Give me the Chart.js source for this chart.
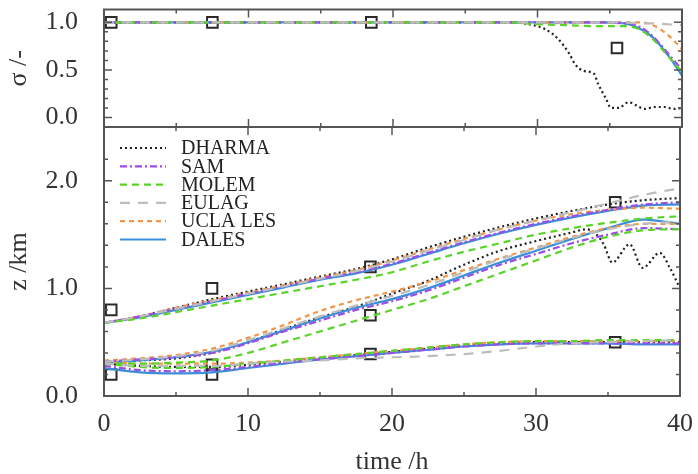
<!DOCTYPE html>
<html><head><meta charset="utf-8">
<script src="https://cdn.jsdelivr.net/npm/chart.js@4.4.1/dist/chart.umd.min.js"></script>
<style>
html,body{margin:0;padding:0;background:#fff;}
#wrap{position:relative;width:698px;height:474px;background:#fff;}
canvas{position:absolute;left:0;top:0;}
</style></head><body>
<div id="wrap"><canvas id="cTop" width="698" height="474"></canvas><canvas id="cBot" width="698" height="474"></canvas></div>
<script>
// ---------------- data ----------------
const models = ['DHARMA','SAM','MOLEM','EULAG','UCLA LES','DALES'];
const colors = ['#222222','#9b4de8','#5ad42a','#bdbdbd','#f0964a','#3a8fd8'];
const dashes = [[2,3],[7,3,2,3],[7,5],[10,8],[5,4],[]];

const hours = [0,2.5,5,7.5,10,12.5,15,17.5,20,22.5,25,27.5,30,32.5,35,37.5,40];

// cloud top height (km)
const topDHARMA = [0.68,0.74,0.82,0.90,0.97,1.04,1.11,1.18,1.27,1.38,1.48,1.57,1.65,1.72,1.78,1.82,1.84];
const topSAM    = [0.68,0.74,0.81,0.88,0.95,1.02,1.09,1.15,1.23,1.33,1.43,1.52,1.60,1.67,1.73,1.78,1.80];
const topMOLEM  = [0.68,0.72,0.78,0.84,0.90,0.96,1.02,1.08,1.15,1.25,1.34,1.42,1.50,1.56,1.61,1.65,1.67];
const topEULAG  = [0.68,0.74,0.81,0.88,0.95,1.02,1.09,1.16,1.25,1.35,1.45,1.55,1.63,1.71,1.79,1.87,1.93];
const topUCLA   = [0.68,0.74,0.82,0.89,0.96,1.03,1.10,1.17,1.26,1.36,1.46,1.55,1.63,1.69,1.73,1.75,1.74];
const topDALES  = [0.68,0.73,0.80,0.87,0.94,1.01,1.08,1.14,1.22,1.32,1.42,1.51,1.59,1.66,1.72,1.77,1.78];

// cloud base height (km)
const dharmaBaseHours = [0,2.5,5,7.5,10,12.5,15,17.5,20,22.5,25,27.5,30,32.5,33.5,34.2,34.7,35.3,36.5,37.4,38.6,39.3,40];
const baseDHARMA = [0.31,0.33,0.35,0.40,0.50,0.62,0.73,0.83,0.95,1.07,1.22,1.35,1.44,1.52,1.55,1.50,1.41,1.24,1.41,1.19,1.33,1.19,1.00];
const baseSAM    = [0.32,0.34,0.36,0.40,0.49,0.60,0.70,0.80,0.88,0.98,1.10,1.22,1.32,1.42,1.50,1.56,1.55];
const baseMOLEM  = [0.30,0.30,0.31,0.33,0.40,0.50,0.60,0.70,0.80,0.90,1.02,1.14,1.26,1.38,1.48,1.54,1.55];
const baseEULAG  = [0.32,0.34,0.37,0.42,0.52,0.63,0.74,0.84,0.93,1.03,1.15,1.27,1.37,1.47,1.55,1.60,1.62];
const baseUCLA   = [0.33,0.35,0.38,0.44,0.54,0.66,0.79,0.89,0.97,1.06,1.17,1.28,1.38,1.48,1.56,1.60,1.60];
const baseDALES  = [0.31,0.33,0.36,0.41,0.50,0.61,0.72,0.82,0.90,1.00,1.12,1.24,1.35,1.46,1.56,1.64,1.60];

// lowest level (km)
const lowDHARMA = [0.30,0.28,0.27,0.27,0.29,0.32,0.35,0.38,0.41,0.44,0.47,0.49,0.50,0.50,0.50,0.50,0.50];
const lowSAM    = [0.28,0.24,0.23,0.24,0.27,0.31,0.34,0.37,0.40,0.43,0.46,0.48,0.49,0.49,0.49,0.49,0.49];
const lowMOLEM  = [0.30,0.27,0.26,0.27,0.30,0.33,0.36,0.39,0.42,0.45,0.48,0.50,0.51,0.51,0.52,0.52,0.52];
const lowEULAG  = [0.30,0.28,0.28,0.28,0.30,0.32,0.33,0.35,0.36,0.37,0.39,0.42,0.46,0.49,0.50,0.51,0.52];
const lowUCLA   = [0.32,0.30,0.30,0.30,0.31,0.33,0.36,0.39,0.42,0.45,0.48,0.50,0.51,0.51,0.51,0.51,0.51];
const lowDALES  = [0.26,0.22,0.21,0.22,0.26,0.30,0.34,0.37,0.40,0.43,0.46,0.48,0.49,0.49,0.49,0.48,0.48];

// cloud fraction sigma
const dharmaSigmaHours = [0,10,20,28,29,30.5,31.4,32.2,32.6,33.2,33.9,34.2,34.7,35.1,35.6,36.3,36.8,37.4,38.1,38.8,39.4,40];
const sigmaDHARMA = [1,1,1,1,0.99,0.93,0.83,0.67,0.56,0.49,0.46,0.35,0.21,0.10,0.10,0.16,0.13,0.09,0.11,0.11,0.09,0.10];
const sigmaHours = [0,28,30,32,34,36,37,38,39,40];
const sigmaSAM   = [1,1,1,1,1,0.99,0.96,0.85,0.68,0.50];
const sigmaMOLEM = [1,1,0.98,0.97,0.96,0.96,0.93,0.82,0.65,0.48];
const sigmaEULAG = [1,1,1,1,1,1,0.99,0.99,0.98,0.97];
const sigmaUCLA  = [1,1,1,1,1,1,1,0.97,0.87,0.72];
const sigmaDALES = [1,1,1,1,1,0.99,0.94,0.84,0.66,0.44];

// observations
const obsHours = [0.5,7.5,18.5,35.5];
const obsSigma = [1.0,1.0,1.0,0.73];
const obsTop   = [0.8,1.0,1.2,1.8];
const obsBase  = [null,0.29,0.75,null];
const obsLow   = [0.2,0.2,0.39,0.5];

// x ticks
const xMin = 0, xMax = 40, xStep = 5, xLabelEvery = 10;

// ---------------- build ----------------
const FONT = "'Liberation Serif', 'Times New Roman', serif";
const pts = (xs, ys) => xs.map((x,i) => ({x, y: ys[i]})).filter(p => p.y !== null);

function lineDs(label, xs, ys, k){
  return {label, data: pts(xs, ys), borderColor: colors[k], borderDash: dashes[k],
    borderWidth: 2.2, pointRadius: 0, fill: false, cubicInterpolationMode: 'monotone'};
}
function obsDs(xs, ys){
  return {label: 'obs', data: pts(xs, ys), showLine: false, pointStyle: 'rect', pointRadius: 7.5,
    pointBorderWidth: 2, borderColor: '#2a2a2a', backgroundColor: 'rgba(255,255,255,0)', pointHoverRadius: 7.5};
}

const sigmaSets = [
  [dharmaSigmaHours, sigmaDHARMA],[sigmaHours, sigmaSAM],[sigmaHours, sigmaMOLEM],
  [sigmaHours, sigmaEULAG],[sigmaHours, sigmaUCLA],[sigmaHours, sigmaDALES]];
const topSets = [topDHARMA, topSAM, topMOLEM, topEULAG, topUCLA, topDALES];
const baseSets = [[dharmaBaseHours, baseDHARMA],[hours, baseSAM],[hours, baseMOLEM],[hours, baseEULAG],[hours, baseUCLA],[hours, baseDALES]];
const lowSets = [lowDHARMA, lowSAM, lowMOLEM, lowEULAG, lowUCLA, lowDALES];

const drawOrder = [3,2,1,4,5,0];

const topDatasets = [];
drawOrder.forEach(k => topDatasets.push(lineDs(models[k], sigmaSets[k][0], sigmaSets[k][1], k)));
topDatasets.push(obsDs(obsHours, obsSigma));

const botDatasets = [];
drawOrder.forEach(k => {
  botDatasets.push(lineDs(models[k], hours, topSets[k], k));
  botDatasets.push(lineDs(models[k], baseSets[k][0], baseSets[k][1], k));
  botDatasets.push(lineDs(models[k], hours, lowSets[k], k));
});
botDatasets.push(obsDs(obsHours, obsTop));
botDatasets.push(obsDs(obsHours, obsBase));
botDatasets.push(obsDs(obsHours, obsLow));

const isMult = (v, m) => Math.abs(v/m - Math.round(v/m)) < 1e-6;

// inward tick marks + frame
const frameTicks = {
  id: 'frameTicks',
  afterDatasetsDraw(chart, args, o){
    const {ctx, chartArea: a} = chart;
    const xs = chart.scales.x, ys = chart.scales.y;
    ctx.save();
    ctx.strokeStyle = '#555'; ctx.lineWidth = 1.5;
    ctx.beginPath();
    xs.ticks.forEach(t => {
      if (!isMult(t.value, o.xStep)) return;
      const p = xs.getPixelForValue(t.value);
      const L = isMult(t.value, o.xMajor) ? 8 : 4;
      ctx.moveTo(p, a.bottom); ctx.lineTo(p, a.bottom - L);
      ctx.moveTo(p, a.top); ctx.lineTo(p, a.top + L);
    });
    ys.ticks.forEach(t => {
      if (!isMult(t.value, o.yStep)) return;
      const p = ys.getPixelForValue(t.value);
      const L = isMult(t.value, o.yMajor) ? 8 : 4;
      ctx.moveTo(a.left, p); ctx.lineTo(a.left + L, p);
      ctx.moveTo(a.right, p); ctx.lineTo(a.right - L, p);
    });
    ctx.stroke();
    ctx.lineWidth = 2;
    ctx.strokeRect(a.left, a.top, a.right - a.left, a.bottom - a.top);
    ctx.restore();
  }
};

// in-plot legend
const legendBox = {
  id: 'legendBox',
  afterDatasetsDraw(chart, args, o){
    if (!o.show) return;
    const {ctx, chartArea: a} = chart;
    ctx.save();
    ctx.font = "20px " + FONT;
    ctx.textBaseline = 'middle';
    ctx.fillStyle = '#222';
    models.forEach((m, i) => {
      const y = a.top + 21 + i * 18.3;
      ctx.strokeStyle = colors[i];
      ctx.lineWidth = 2.2;
      ctx.setLineDash(dashes[i]);
      ctx.beginPath(); ctx.moveTo(a.left + 16, y); ctx.lineTo(a.left + 62, y); ctx.stroke();
      ctx.setLineDash([]);
      ctx.fillText(m, a.left + 77, y + 1);
    });
    ctx.restore();
  }
};

const tickFont = {family: FONT, size: 26};
const titleFont = {family: FONT, size: 26};
const fitY = s => { s.width = 104; s.paddingTop = 0; s.paddingBottom = 0; };

new Chart(document.getElementById('cTop'), {
  type: 'line',
  data: {datasets: topDatasets},
  plugins: [frameTicks, legendBox],
  options: {
    responsive: false, animation: false, events: [],
    layout: {padding: {top: 8, right: 16, bottom: 347, left: 0}},
    plugins: {legend: {display: false}, tooltip: {enabled: false},
      frameTicks: {xStep: xStep, xMajor: xLabelEvery, yStep: 0.1, yMajor: 0.5},
      legendBox: {show: false}},
    scales: {
      x: {type: 'linear', min: xMin, max: xMax,
        ticks: {display: false, stepSize: xStep},
        grid: {display: false}, border: {display: false},
        afterFit: s => { s.height = 0; s.paddingLeft = 0; s.paddingRight = 0; }},
      y: {type: 'linear', min: -0.1, max: 1.135,
        ticks: {stepSize: 0.1, autoSkip: false, padding: 18, color: '#333', font: tickFont,
          callback: v => isMult(v, 0.5) ? v.toFixed(1) : ''},
        grid: {display: false}, border: {display: false},
        title: {display: true, text: 'σ /-', color: '#333', font: titleFont, padding: {top: 4, bottom: 0}},
        afterFit: fitY}
    }
  }
});

new Chart(document.getElementById('cBot'), {
  type: 'line',
  data: {datasets: botDatasets},
  plugins: [frameTicks, legendBox],
  options: {
    responsive: false, animation: false, events: [],
    layout: {padding: {top: 127, right: 16, bottom: 0, left: 0}},
    plugins: {legend: {display: false}, tooltip: {enabled: false},
      frameTicks: {xStep: xStep, xMajor: xLabelEvery, yStep: 0.2, yMajor: 1.0},
      legendBox: {show: true}},
    scales: {
      x: {type: 'linear', min: xMin, max: xMax,
        ticks: {stepSize: xStep, autoSkip: false, maxRotation: 0, padding: 5, color: '#333', font: tickFont,
          callback: v => isMult(v, xLabelEvery) ? String(v) : ''},
        grid: {display: false}, border: {display: false},
        title: {display: true, text: 'time /h', color: '#333', font: titleFont, padding: {top: 0, bottom: -4}},
        afterFit: s => { s.height = 78; }},
      y: {type: 'linear', min: 0, max: 2.5,
        ticks: {stepSize: 0.2, autoSkip: false, padding: 18, color: '#333', font: tickFont,
          callback: v => isMult(v, 1.0) ? v.toFixed(1) : ''},
        grid: {display: false}, border: {display: false},
        title: {display: true, text: 'z /km', color: '#333', font: titleFont, padding: {top: 4, bottom: 0}},
        afterFit: fitY}
    }
  }
});
</script>
</body></html>
